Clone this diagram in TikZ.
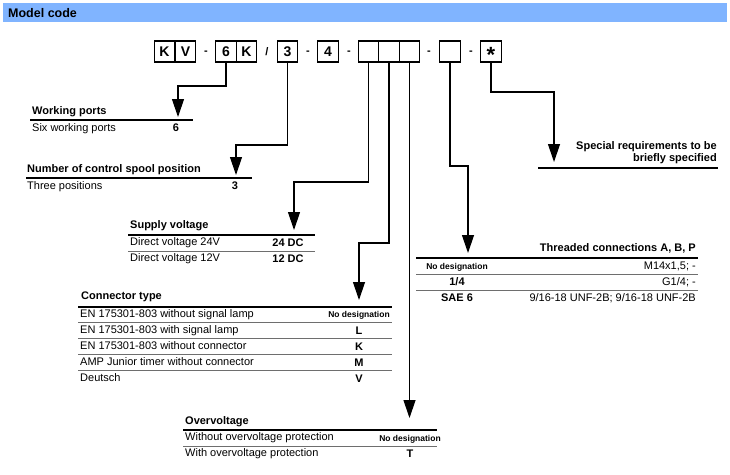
\documentclass[tikz,border=0pt]{standalone}
\usepackage{fontspec}
\setmainfont{Liberation Sans}
\usetikzlibrary{arrows.meta}
\definecolor{hdrblue}{RGB}{128,180,255}
\definecolor{sepgray}{RGB}{110,110,110}
\begin{document}
\begin{tikzpicture}[x=1pt,y=-1pt,
  cbox/.style={draw,line width=1.1pt,minimum width=20.5pt,minimum height=21pt,inner sep=0pt,
    font=\bfseries\fontsize{14}{16}\selectfont,text height=10pt,text depth=0pt},
  dashsep/.style={inner sep=0pt,font=\bfseries\fontsize{11}{13}\selectfont},
  hd/.style={anchor=west,inner sep=0pt,font=\bfseries\fontsize{11}{13}\selectfont,text height=7.9pt,text depth=0pt},
  tx/.style={anchor=west,inner sep=0pt,font=\fontsize{11}{13}\selectfont,text height=7.9pt,text depth=0pt},
  cd/.style={inner sep=0pt,font=\bfseries\fontsize{11}{13}\selectfont,text height=7.9pt,text depth=0pt},
  nd/.style={inner sep=0pt,font=\bfseries\fontsize{8.5}{10}\selectfont,text height=6.1pt,text depth=0pt},
  hrule/.style={line width=1.2pt,black},
  srule/.style={line width=0.8pt,sepgray},
  conn/.style={line width=1.2pt,-{Triangle[width=12pt,length=18pt]}}
]
\useasboundingbox (0,0) rectangle (730,474);
% header bar
\fill[hdrblue] (3,3) rectangle (727,22);
\node[anchor=west,inner sep=0pt,font=\bfseries\fontsize{12.5}{14}\selectfont,text height=9pt,text depth=0pt] (title) at (8,12.5) {Model code};

% code boxes
\node[cbox] (bK1) at (164.5,51.5) {K};
\node[cbox] (bV) at (185.5,51.5) {V};
\node[dashsep] (d1) at (206,52.5) {-};
\node[cbox] (b6) at (226,51.5) {6};
\node[cbox] (bK2) at (246.5,51.5) {K};
\node[dashsep] (sl) at (267,52) {/};
\node[cbox] (b3) at (287.5,51.5) {3};
\node[dashsep] (d2) at (308,52.5) {-};
\node[cbox] (b4) at (328,51.5) {4};
\node[dashsep] (d3) at (349,52.5) {-};
\node[cbox] (e1) at (368.5,51.5) {};
\node[cbox] (e2) at (389,51.5) {};
\node[cbox] (e3) at (409.5,51.5) {};
\node[dashsep] (d4) at (429,52.5) {-};
\node[cbox] (e4) at (450,51.5) {};
\node[dashsep] (d5) at (471,52.5) {-};
\node[cbox,font=\bfseries\fontsize{22}{24}\selectfont] (star) at (491,51.5) {\raisebox{-5.5pt}{*}};

% Working ports
\node[hd] (wph) at (32,111) {Working ports};
\draw[hrule] (30,120) -- (193,120);
\node[tx] (wpr) at (32,127.5) {Six working ports};
\node[cd] (wpc) at (176,127.5) {6};
\coordinate (tWP) at (178,117);

% Number of control spool position
\node[hd] (nch) at (27,169) {Number of control spool position};
\draw[hrule] (26,178) -- (252,178);
\node[tx] (ncr) at (27,185.5) {Three positions};
\node[cd] (ncc) at (235,185.5) {3};
\coordinate (tNC) at (236,175);

% Supply voltage
\node[hd] (svh) at (130,225) {Supply voltage};
\draw[hrule] (128,235) -- (315,235);
\node[tx] (sv1) at (130,242) {Direct voltage 24V};
\node[cd] (sv1c) at (288,242.5) {24 DC};
\draw[srule] (128,251.5) -- (315,251.5);
\node[tx] (sv2) at (130,258) {Direct voltage 12V};
\node[cd] (sv2c) at (288,258.5) {12 DC};
\coordinate (tSV) at (294,230);

% Connector type
\node[hd] (cth) at (81,296) {Connector type};
\draw[hrule] (78,307) -- (392,307);
\node[tx] (ct1) at (80,313.5) {EN 175301-803 without signal lamp};
\node[nd] (ct1c) at (359,314.5) {No designation};
\draw[srule] (78,322.5) -- (392,322.5);
\node[tx] (ct2) at (80,330) {EN 175301-803 with signal lamp};
\node[cd] (ct2c) at (359,330.5) {L};
\draw[srule] (78,338.5) -- (392,338.5);
\node[tx] (ct3) at (80,346) {EN 175301-803 without connector};
\node[cd] (ct3c) at (359,346.5) {K};
\draw[srule] (78,354.5) -- (392,354.5);
\node[tx] (ct4) at (80,362) {AMP Junior timer without connector};
\node[cd] (ct4c) at (359,362.5) {M};
\draw[srule] (78,370.5) -- (392,370.5);
\node[tx] (ct5) at (80,378) {Deutsch};
\node[cd] (ct5c) at (359,378.5) {V};
\coordinate (tCT) at (359,300);

% Overvoltage
\node[hd] (ovh) at (185,421) {Overvoltage};
\draw[hrule] (183,430) -- (437,430);
\node[tx] (ov1) at (185,437) {Without overvoltage protection};
\node[nd] (ov1c) at (410,438) {No designation};
\draw[srule] (183,446) -- (437,446);
\node[tx] (ov2) at (185,453) {With overvoltage protection};
\node[cd] (ov2c) at (410,453.5) {T};
\coordinate (tOV) at (409.5,418);

% Threaded connections
\node[hd,anchor=east] (thh) at (696,248) {Threaded connections A, B, P};
\draw[hrule] (416,258) -- (698,258);
\node[nd] (th1c) at (457,266.5) {No designation};
\node[tx,anchor=east] (th1) at (696,266) {M14x1,5; -};
\draw[srule] (416,274) -- (698,274);
\node[cd] (th2c) at (457,282) {1/4};
\node[tx,anchor=east] (th2) at (696,282) {G1/4; -};
\draw[srule] (416,290) -- (698,290);
\node[cd] (th3c) at (457,298) {SAE 6};
\node[tx,anchor=east] (th3) at (696,298) {9/16-18 UNF-2B; 9/16-18 UNF-2B};
\coordinate (tTH) at (468,253);

% Special requirements
\node[hd,anchor=east] (sr1) at (717,146) {Special requirements to be};
\node[hd,anchor=east] (sr2) at (717,158) {briefly specified};
\draw[hrule] (538,168) -- (718,168);
\coordinate (tSR) at (554,162);

% connectors
\draw[conn] (b6.south) -- (b6.south |- 0,86) -| (tWP);
\draw[conn] (b3.south) -- (b3.south |- 0,145) -| (tNC);
\draw[conn] (e1.south) -- (e1.south |- 0,182) -| (tSV);
\draw[conn] (e2.south) -- (e2.south |- 0,243) -| (tCT);
\draw[conn] (e3.south) -- (tOV);
\draw[conn] (e4.south) -- (e4.south |- 0,166) -| (tTH);
\draw[conn] (star.south) -- (star.south |- 0,92) -| (tSR);
\end{tikzpicture}
\end{document}
